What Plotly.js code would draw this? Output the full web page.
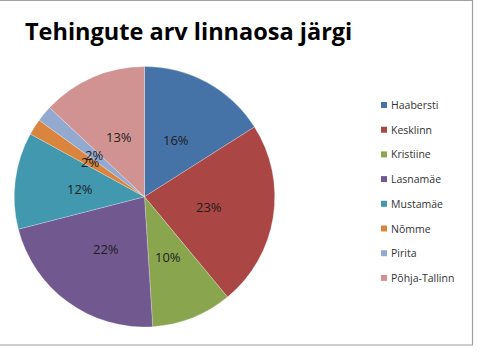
<!DOCTYPE html>
<html><head><meta charset="utf-8">
<script src="https://cdn.plot.ly/plotly-3.0.1.min.js"></script>
<style>html,body{margin:0;padding:0;background:#fff}#chart{width:480px;height:358px}</style>
</head><body><div id="chart"></div>
<script>
const categories = ["Haabersti","Kesklinn","Kristiine","Lasnamäe","Mustamäe","Nõmme","Pirita","Põhja-Tallinn"];
const shares = [16,23,10,22,12,2,2,13];
const colors = ["#4572A7","#AA4643","#89A54E","#71588F","#4198AF","#DB843D","#93A9CF","#D19392"];

const W=480,H=358;
const FONT='Open Sans, Liberation Sans, sans-serif';
// pie placement (pixels)
const pieL=14, pieR=275, pieT=66.5, pieB=327;
const cx=(pieL+pieR)/2, cy=(pieT+pieB)/2, R=Math.min(pieR-pieL,pieB-pieT)/2;

const trace = {
  type:'pie', labels:categories, values:shares, sort:false, direction:'clockwise', rotation:0,
  marker:{colors:colors, line:{color:'rgba(255,255,255,0.5)', width:0.5}},
  textinfo:'none', hoverinfo:'label+percent', showlegend:false,
  domain:{x:[pieL/W,pieR/W], y:[1-pieB/H,1-pieT/H]}
};

const total = shares.reduce((a,b)=>a+b,0);
const annotations = [];
const shapes = [];
// percentage labels at half radius along each slice's mid-angle (clockwise from 12 o'clock)
let cum=0;
shares.forEach((v,i)=>{
  const th=(cum+v/2)/total*2*Math.PI; cum+=v;
  const px=cx+0.5*R*Math.sin(th), py=cy-0.5*R*Math.cos(th);
  annotations.push({xref:'paper',yref:'paper',x:px/W,y:1-py/H,xanchor:'center',yanchor:'middle',
    showarrow:false,text:Math.round(v/total*100)+'%',font:{family:FONT,size:13,color:'#1e1e1e'}});
});
// legend built from categories/colors
const legTop=105, legStep=24.7, mkX=381, mkS=6;
categories.forEach((c,i)=>{
  const y=legTop+i*legStep;
  shapes.push({type:'rect',xref:'paper',yref:'paper',x0:mkX/W,x1:(mkX+mkS)/W,y0:1-(y+mkS/2)/H,y1:1-(y-mkS/2)/H,
    fillcolor:colors[i],line:{width:0}});
  annotations.push({xref:'paper',yref:'paper',x:389/W,y:1-y/H,xanchor:'left',yanchor:'middle',showarrow:false,
    text:c,font:{family:FONT,size:10.5,color:'#333'}});
});
shapes.push({type:'rect', xref:'paper', yref:'paper', x0:-0.01, x1:472.5/W, y0:1-345/H, y1:1-0.5/H,
  line:{color:'#a0a0a0', width:1.2}});

const layout = {
  width:W, height:H, margin:{l:0,r:0,t:0,b:0}, paper_bgcolor:'#fff', showlegend:false,
  title:{text:'<b>Tehingute arv linnaosa järgi</b>', x:25/W, xanchor:'left', y:1-32/H, yanchor:'middle',
         font:{family:FONT, size:23.5, color:'#000'}},
  annotations:annotations, shapes:shapes
};
Plotly.newPlot('chart',[trace],layout,{displayModeBar:false,staticPlot:true});
</script></body></html>
